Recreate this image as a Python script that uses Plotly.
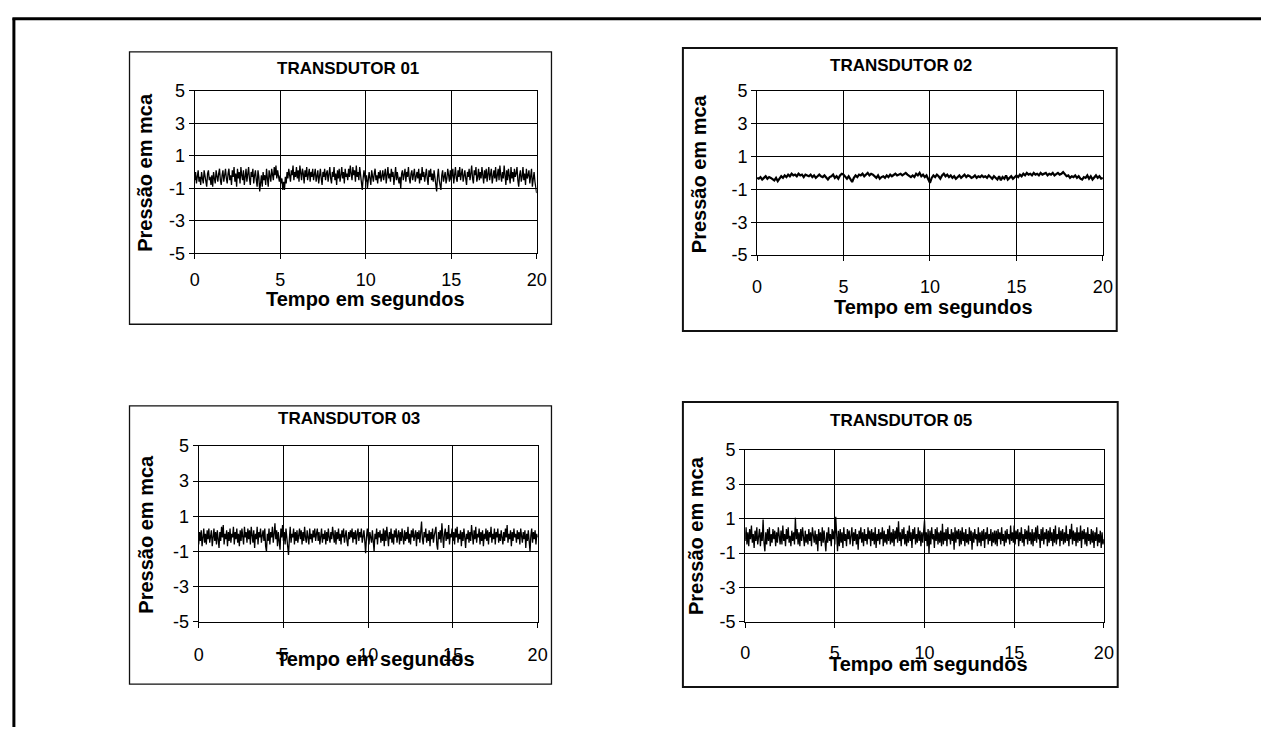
import plotly.graph_objects as go

W, H = 1271, 737

time_fine = [round(i * 0.05, 2) for i in range(401)]
time_coarse = [round(i * 0.1, 1) for i in range(201)]

transdutor_01 = [
    -0.5, 0.0, -0.7, -0.2, 0.1, -0.6, -0.3, -0.8, 0.0, -0.4, -0.7, 0.1, -0.2, -0.6, -0.9, -0.1, 0.1, -0.5, -0.3, -0.8,
    -0.2, -0.9, 0.0, -0.4, -0.7, 0.1, -0.3, -0.6, -0.1, 0.2, -0.5, -0.8, -0.2, 0.1, -0.6, -0.3, 0.2, -0.4, -0.7, -0.1,
    0.2, -0.5, -0.2, -0.8, 0.1, -0.3, 0.3, -0.6, -0.1, -0.9, 0.2, -0.4, 0.0, -0.7, 0.3, -0.2, -0.5, 0.1, -0.8, -0.3,
    0.2, -0.6, -0.1, 0.3, -0.4, -0.8, 0.0, -0.3, 0.2, -0.7, -0.2, 0.1, -0.5, -0.9, 0.1, -0.3, -1.2, -0.6, -0.2, -0.9,
    0.0, -0.5, -0.2, -0.8, 0.2, -0.4, -0.9, 0.1, -0.3, -0.6, 0.2, -0.1, -0.5, 0.3, -0.2, 0.4, -0.4, 0.1, -0.3, -0.6,
    -0.2, -0.7, -0.4, -1.1, -0.6, -1.1, -0.3, -0.7, 0.0, -0.4, 0.2, -0.3, -0.6, 0.1, -0.2, 0.4, -0.5, 0.0, -0.3, 0.3,
    -0.4, 0.1, -0.6, 0.4, -0.2, -0.5, 0.2, -0.1, -0.7, 0.1, -0.3, 0.3, -0.5, -0.1, 0.2, -0.6, 0.0, -0.3, 0.2, -0.5,
    -0.1, 0.2, -0.6, -0.3, 0.1, -0.7, -0.2, 0.2, -0.4, -0.8, 0.0, -0.3, 0.2, -0.5, -0.1, 0.1, -0.6, -0.2, 0.3, -0.4,
    -0.7, 0.0, -0.3, 0.3, -0.5, -0.1, -0.8, 0.1, -0.4, 0.2, -0.6, -0.2, 0.3, -0.4, 0.0, -0.7, 0.2, -0.3, -0.1, -0.5,
    0.2, -0.3, 0.4, -0.1, -0.5, 0.3, -0.2, 0.1, -0.6, 0.4, -0.3, 0.0, -0.5, 0.3, -0.2, -0.7, -1.1, -0.4, 0.1, -0.3,
    -0.6, -0.2, -1.0, -0.5, 0.0, -0.4, -0.8, 0.1, -0.3, -0.6, -0.1, 0.2, -0.5, -0.2, -0.7, 0.0, -0.4, 0.1, -0.6, -0.3,
    0.1, -0.5, -0.2, 0.2, -0.7, -0.3, 0.3, -0.4, -0.1, -0.6, 0.2, -0.3, 0.0, -0.8, -0.2, 0.3, -0.5, 0.0, -0.4, -0.7,
    -0.3, -1.0, -0.1, 0.1, -0.5, -0.2, 0.2, -0.6, 0.0, -0.3, 0.3, -0.4, -0.7, -0.1, 0.1, -0.5, -0.2, 0.2, -0.6, -0.3,
    0.0, -0.4, 0.2, -0.7, -0.1, -0.5, 0.3, -0.3, 0.0, -0.6, -0.2, 0.2, -0.4, -0.8, 0.1, -0.3, 0.2, -0.5, -0.1, -0.6,
    0.1, -0.4, -0.8, -1.2, -0.3, 0.2, -0.5, -0.9, -1.1, -0.2, 0.1, -0.6, -0.3, 0.0, -0.7, -0.4, 0.2, -0.2, -0.6, 0.1,
    -0.5, -0.2, 0.2, -0.7, -0.1, 0.3, -0.4, -0.6, 0.1, -0.3, 0.3, -0.5, -0.1, 0.2, -0.6, -0.2, 0.1, -0.4, -0.8, 0.0,
    -0.3, 0.2, -0.5, -0.1, 0.4, -0.4, -0.7, 0.1, -0.2, 0.3, -0.6, -0.3, 0.2, -0.5, 0.0, -0.4, 0.3, -0.2, -0.7, 0.1,
    -0.4, 0.2, -0.6, -0.1, 0.3, -0.5, -0.2, 0.2, -0.7, -0.3, 0.1, -0.4, 0.3, -0.6, -0.1, 0.2, -0.5, 0.4, -0.2, -0.6,
    0.0, -0.4, 0.4, -0.3, -0.8, 0.1, -0.5, 0.2, -0.2, -0.7, 0.3, -0.4, 0.0, -0.6, 0.2, -0.3, -0.1, 0.3, -0.5, -0.9,
    -0.2, 0.1, -0.6, -0.3, 0.3, -0.5, -0.1, -0.8, 0.2, -0.4, -0.2, 0.1, -0.7, -0.3, 0.2, -0.9, -0.4, 0.0, -0.6, -1.0,
    -1.3,
]

transdutor_02 = [
    -0.3, -0.35, -0.25, -0.4, -0.3, -0.2, -0.35, -0.25, -0.3, -0.4,
    -0.45, -0.3, -0.5, -0.35, -0.2, -0.3, -0.15, -0.25, -0.1, -0.2,
    -0.05, -0.15, -0.1, -0.2, -0.05, -0.15, -0.1, -0.25, -0.1, -0.15,
    -0.2, -0.1, -0.25, -0.15, -0.3, -0.2, -0.1, -0.2, -0.25, -0.15,
    -0.3, -0.4, -0.25, -0.2, -0.1, -0.3, -0.2, -0.35, -0.15, -0.05,
    -0.1, -0.25, -0.35, -0.2, -0.4, -0.55, -0.3, -0.15, -0.25, -0.1,
    -0.15, -0.05, -0.2, -0.1, 0.0, -0.15, -0.05, -0.1, -0.2, -0.3,
    -0.15, -0.35, -0.25, -0.2, -0.3, -0.15, -0.25, -0.1, -0.2, -0.15,
    -0.05, -0.15, -0.1, -0.05, -0.15, -0.1, 0.0, -0.1, -0.2, -0.25,
    -0.15, -0.25, -0.05, -0.15, 0.0, -0.2, -0.1, -0.25, -0.15, -0.4,
    -0.6, -0.3, -0.15, -0.25, -0.1, -0.2, -0.35, -0.15, -0.05, -0.2,
    -0.1, -0.25, -0.15, -0.3, -0.2, -0.35, -0.25, -0.15, -0.3, -0.2,
    -0.1, -0.25, -0.15, -0.2, -0.3, -0.25, -0.15, -0.3, -0.2, -0.25,
    -0.15, -0.25, -0.2, -0.3, -0.15, -0.25, -0.35, -0.2, -0.3, -0.4,
    -0.2, -0.45, -0.25, -0.35, -0.15, -0.4, -0.3, -0.2, -0.35, -0.25,
    -0.15, -0.25, -0.1, -0.2, -0.05, -0.15, 0.0, -0.1, -0.05, -0.15,
    0.0, -0.1, -0.05, -0.15, 0.0, -0.1, -0.05, 0.0, -0.15, -0.05,
    -0.1, 0.0, -0.15, -0.05, 0.0, -0.1, -0.05, 0.05, -0.1, -0.2,
    -0.15, -0.3, -0.2, -0.25, -0.15, -0.3, -0.2, -0.35, -0.4, -0.25,
    -0.3, -0.15, -0.35, -0.2, -0.4, -0.25, -0.15, -0.3, -0.2, -0.35,
    -0.3,
]

transdutor_03 = [
    -0.6, 0.1, -0.4, 0.2, -0.7, -0.1, 0.3, -0.5, 0.0, -0.6, 0.2, -0.3, 0.3, -0.5, -0.1, 0.2, -0.7, -0.2, 0.3, -0.4,
    0.1, -0.6, 0.2, -0.3, -0.8, 0.1, -0.4, 0.4, -0.2, 0.5, -0.6, 0.0, -0.3, 0.2, -0.7, 0.1, -0.4, 0.3, -0.5, 0.0,
    -0.2, 0.4, -0.6, 0.1, -0.3, 0.3, -0.5, 0.0, -0.7, 0.2, -0.4, 0.3, -0.1, -0.6, 0.4, -0.2, 0.1, -0.5, 0.3, -0.3,
    0.2, -0.6, 0.4, -0.1, -0.5, 0.2, -0.8, 0.0, -0.3, 0.4, -0.6, 0.1, -0.2, 0.3, -0.5, -0.1, 0.2, -0.4, 0.3, -0.7,
    -1.0, 0.0, -0.4, 0.3, -0.6, 0.1, -0.2, 0.4, -0.5, 0.0, 0.6, -0.3, 0.2, -0.7, 0.1, -0.4, -0.9, 0.3, -0.2, 0.5,
    -0.4, 0.1, -0.6, 0.3, -0.2, -0.8, -1.2, -0.3, 0.4, -0.5, 0.0, -0.2, 0.3, -0.6, 0.1, -0.4, 0.2, -0.5, -0.1, 0.3,
    -0.3, 0.2, -0.6, 0.1, -0.4, 0.4, -0.2, -0.5, 0.2, -0.1, -0.6, 0.3, -0.3, 0.0, -0.5, 0.2, -0.2, 0.3, -0.4, 0.0,
    0.3, -0.4, 0.1, -0.6, -0.2, 0.3, -0.5, 0.0, -0.3, 0.2, -0.6, 0.1, -0.4, 0.3, -0.2, -0.5, 0.1, -0.3, 0.4, -0.1,
    -0.5, 0.2, -0.6, 0.1, -0.3, 0.3, -0.4, 0.0, -0.6, 0.2, -0.2, 0.3, -0.5, -0.1, 0.2, -0.4, -0.7, 0.1, -0.3, 0.2,
    -0.2, 0.3, -0.5, 0.1, -0.3, 0.2, -0.6, 0.0, 0.3, -0.4, 0.1, -0.2, 0.3, -0.5, -0.1, 0.2, -0.4, -1.1, -0.2, 0.3,
    -0.2, -0.6, 0.1, -0.3, -0.5, 0.2, -0.4, -1.0, 0.0, -0.3, 0.3, -0.6, 0.1, -0.2, 0.2, -0.5, 0.0, -0.4, 0.3, -0.7,
    0.2, -0.4, 0.4, -0.2, -0.7, 0.1, -0.3, 0.3, -0.5, 0.0, -0.6, 0.2, -0.2, 0.3, -0.5, -0.1, 0.2, -0.6, 0.1, -0.4,
    0.3, -0.2, -0.6, 0.2, -0.4, 0.1, -0.3, 0.4, -0.5, 0.0, -0.6, 0.2, -0.2, 0.3, -0.4, -0.1, 0.2, -0.7, 0.1, -0.3,
    0.2, -0.5, 0.0, 0.7, -0.3, -0.6, 0.1, -0.2, 0.3, -0.5, 0.0, -0.4, 0.2, -0.7, 0.1, -0.3, 0.3, -0.5, -0.1, 0.2,
    0.4, -0.6, -0.9, 0.1, -0.3, 0.2, -0.5, 0.6, -0.2, -0.8, 0.0, 0.3, -0.4, 0.1, -0.3, 0.5, -0.6, 0.0, -0.2, 0.3,
    -0.4, 0.1, -0.6, 0.3, -0.2, 0.4, -0.5, 0.0, -0.3, 0.2, -0.7, 0.1, -0.4, 0.3, -0.2, -0.8, 0.0, -0.3, 0.2, -0.5,
    0.1, -0.4, 0.5, -0.2, -0.6, 0.2, -0.3, 0.4, -0.5, 0.0, -0.2, 0.3, -0.6, 0.1, -0.4, 0.2, -0.7, 0.0, -0.3, 0.3,
    -0.4, 0.2, -0.6, 0.1, -0.2, 0.4, -0.5, 0.0, -0.3, 0.3, -0.6, 0.1, -0.2, 0.3, -0.5, 0.0, -0.4, 0.2, -0.1, -0.6,
    0.1, -0.4, 0.3, -0.2, 0.5, -0.5, 0.0, -0.3, 0.2, -0.7, 0.1, -0.4, 0.3, -0.2, 0.0, -0.5, 0.2, -0.3, 0.1, -0.6,
    0.3, -0.2, -0.5, 0.1, -0.3, 0.2, -0.8, 0.0, -0.4, 0.2, -0.3, -1.0, -0.1, 0.3, -0.5, 0.1, -0.3, 0.2, -0.6, 0.0,
    -0.2,
]

transdutor_05 = [
    -0.3, 0.5, -0.5, 0.2, -0.6, 0.4, -0.2, 0.6, -0.4, 0.1, -0.7, 0.3, -0.3, 0.5, -0.5, 0.0, 0.4, -0.6, 0.2, -0.3,
    0.95, -0.4, -0.9, 0.2, -0.5, 0.4, -0.3, 0.5, -0.6, 0.1, -0.4, 0.4, -0.2, 0.3, -0.6, 0.2, -0.4, 0.5, -0.1, -0.5,
    0.3, -0.5, 0.6, -0.3, 0.1, -0.6, 0.4, -0.2, 0.5, -0.4, 0.0, -0.6, 0.3, -0.3, 0.2, -0.5, 1.05, -0.2, 0.4, -0.5,
    0.2, -0.6, 0.4, -0.3, 0.5, -0.2, -0.6, 0.3, -0.4, 0.1, -0.5, 0.4, -0.3, 0.2, -0.6, 0.5, -0.1, -0.4, 0.3, -0.5,
    0.1, -0.9, 0.4, -0.3, 0.2, -0.6, 0.5, -0.4, 0.3, -0.2, -0.9, 0.2, -0.4, 0.5, -0.3, 0.1, -0.6, 0.4, -0.2, 0.3,
    -0.5, 1.1, -0.2, -0.9, 0.3, -0.6, 0.4, -0.4, 0.2, -0.7, 0.5, -0.3, 0.1, -0.6, 0.4, -0.2, 0.3, -0.5, 0.0, 0.5,
    -0.6, 0.2, -0.3, 0.4, -0.5, 0.1, -0.8, 0.3, -0.2, 0.5, -0.4, 0.2, -0.6, 0.4, -0.3, 0.1, -0.5, 0.5, -0.2, 0.3,
    -0.6, 0.4, -0.3, 0.2, -0.5, 0.5, -0.7, 0.1, -0.3, 0.4, -0.5, 0.2, -0.2, 0.5, -0.6, 0.3, -0.4, 0.1, -0.5, 0.4,
    -0.3, 0.6, -0.5, 0.2, -0.4, 0.4, -0.6, 0.3, -0.2, 0.5, -0.4, 0.85, -0.3, 0.2, -0.6, 0.4, -0.2, 0.5, -0.5, 0.1,
    -0.6, 0.3, -0.4, 0.6, -0.3, 0.2, -0.7, 0.4, -0.2, 0.5, -0.5, 0.1, -0.4, 0.5, -0.3, 0.3, -0.6, 0.2, -0.4, 0.5,
    0.9, -0.3, 0.2, -0.6, 0.4, -1.0, 0.3, -0.5, 0.5, -0.2, 0.1, -0.7, 0.4, -0.3, 0.5, -0.5, 0.2, -0.4, 0.3, -0.6,
    0.7, -0.5, 0.2, -0.3, 0.4, -0.6, 0.5, -0.2, 0.1, -0.5, 0.4, -0.3, 0.2, -0.8, 0.5, -0.4, 0.3, -0.2, 0.4, -0.6,
    0.3, -0.5, 0.5, -0.3, 0.2, -0.6, 0.4, -0.4, 0.1, -0.5, 0.5, -0.3, 0.3, -0.8, 0.2, -0.4, 0.4, -0.2, 0.1, -0.6,
    0.5, -0.4, 0.2, -0.6, 0.3, -0.3, 0.4, -0.7, 0.2, -0.2, 0.5, -0.5, 0.1, -0.3, 0.4, -0.6, 0.2, -0.4, 0.3, -0.5,
    0.3, -0.6, 0.4, -0.2, 0.2, -0.5, 0.5, -0.3, 0.1, -0.6, 0.3, -0.4, 0.4, -0.2, 0.1, -0.5, 0.6, -0.3, 0.2, -0.4,
    0.6, -0.5, 0.3, -0.2, 0.4, -0.6, 0.2, -0.3, 0.5, -0.4, 0.1, -0.6, 0.4, -0.2, 0.3, -0.5, 0.6, -0.3, 0.2, -0.5,
    0.4, -0.6, 0.2, -0.3, 0.5, -0.4, 0.6, -0.2, 0.1, -0.7, 0.4, -0.3, 0.5, -0.5, 0.2, -0.2, 0.4, -0.6, 0.3, -0.4,
    0.5, -0.3, 0.2, -0.6, 0.4, -0.4, 0.6, -0.5, 0.1, -0.2, 0.5, -0.6, 0.3, -0.3, 0.4, -0.5, 0.2, -0.4, 0.6, -0.3,
    0.1, -0.6, 0.4, -0.2, 0.7, -0.5, 0.3, -0.3, 0.2, -0.6, 0.5, -0.4, 0.2, -0.3, 0.6, -0.7, 0.3, -0.2, 0.4, -0.5,
    0.2, -0.6, 0.5, -0.3, 0.1, -0.5, 0.4, -0.4, 0.3, -0.7, 0.2, -0.3, 0.5, -0.6, 0.1, -0.4, 0.3, -0.7, 0.2, -0.5,
    -0.2,
]

titles = ["TRANSDUTOR 01", "TRANSDUTOR 02", "TRANSDUTOR 03", "TRANSDUTOR 05"]
series = [transdutor_01, transdutor_02, transdutor_03, transdutor_05]
times = [time_fine, time_coarse, time_fine, time_fine]
x_ticks = [0, 5, 10, 15, 20]
y_ticks = [-5, -3, -1, 1, 3, 5]
y_tick_text = ["-5", "-3", "-1", "1", "3", "5"]
x_title = "Tempo em segundos"
y_title = "Pressão em mca"

FONT = "Liberation Sans, Arial, sans-serif"

# layout geometry (pixels): box, plot area, title pos, axis-title pos, tick standoff, line width
panels = [
    dict(box=(126, 43, 553, 323), plot=(192, 83, 538, 250), title=(347, 60),
         xt=(365, 297), yt=(142, 167), stand=5, lw=1.3, bw=1.3),
    dict(box=(686, 39, 1125, 330), plot=(761, 83, 1111, 252), title=(907, 57),
         xt=(940, 305), yt=(703, 168), stand=10, lw=2.2, bw=2),
    dict(box=(126, 407, 553, 693), plot=(196, 448, 539, 629), title=(348, 420),
         xt=(375, 667), yt=(143, 539), stand=11, lw=1.3, bw=1.3),
    dict(box=(686, 403, 1126, 696), plot=(749, 452, 1112, 629), title=(907, 422),
         xt=(935, 672), yt=(700, 540), stand=9, lw=1.3, bw=2),
]


def px(x):
    return x / W


def py(y):
    return 1 - y / H


fig = go.Figure()
shapes = []
annotations = []

for i, (p, xs, ys, ttl) in enumerate(zip(panels, times, series, titles)):
    n = "" if i == 0 else str(i + 1)
    x0, y0, x1, y1 = p["plot"]
    fig.add_trace(go.Scatter(
        x=xs, y=ys, mode="lines",
        line=dict(color="black", width=p["lw"]),
        xaxis="x" + n, yaxis="y" + n, showlegend=False, hoverinfo="skip",
    ))
    axis_common = dict(
        showline=True, linecolor="black", linewidth=1, mirror=True,
        showgrid=True, gridcolor="black", gridwidth=1,
        ticks="outside", ticklen=5, tickcolor="black", tickwidth=1,
        zeroline=False, fixedrange=True,
        tickfont=dict(family=FONT, size=18, color="black"),
    )
    fig.update_layout(**{
        "xaxis" + n: dict(axis_common, domain=[px(x0), px(x1)], range=[0, 20],
                          tickvals=x_ticks, anchor="y" + n,
                          ticklabelstandoff=p["stand"]),
        "yaxis" + n: dict(axis_common, domain=[py(y1), py(y0)], range=[-5, 5],
                          tickvals=y_ticks, ticktext=y_tick_text,
                          anchor="x" + n, ticklabelstandoff=0),
    })
    bx0, by0, bx1, by1 = p["box"]
    shapes.append(dict(type="rect", xref="paper", yref="paper",
                       x0=px(bx0), x1=px(bx1), y0=py(by1), y1=py(by0),
                       line=dict(color="#111", width=p["bw"]), layer="below"))
    annotations.append(dict(text="<b>%s</b>" % ttl, xref="paper", yref="paper",
                            x=px(p["title"][0]), y=py(p["title"][1]),
                            xanchor="center", yanchor="middle", showarrow=False,
                            font=dict(family=FONT, size=17, color="black")))
    annotations.append(dict(text="<b>%s</b>" % x_title, xref="paper", yref="paper",
                            x=px(p["xt"][0]), y=py(p["xt"][1]),
                            xanchor="center", yanchor="middle", showarrow=False,
                            font=dict(family=FONT, size=20, color="black")))
    annotations.append(dict(text="<b>%s</b>" % y_title, xref="paper", yref="paper",
                            x=px(p["yt"][0]), y=py(p["yt"][1]), textangle=-90,
                            xanchor="center", yanchor="middle", showarrow=False,
                            font=dict(family=FONT, size=20, color="black")))

# outer frame (left and top edges)
shapes.append(dict(type="line", xref="paper", yref="paper",
                   x0=px(9), x1=px(9), y0=0, y1=py(8.5),
                   line=dict(color="black", width=3)))
shapes.append(dict(type="line", xref="paper", yref="paper",
                   x0=px(7.5), x1=1, y0=py(9), y1=py(9),
                   line=dict(color="black", width=3)))

fig.update_layout(
    width=W, height=H, autosize=False,
    margin=dict(l=0, r=0, t=0, b=0),
    paper_bgcolor="white", plot_bgcolor="white",
    shapes=shapes, annotations=annotations,
    font=dict(family=FONT, color="black"),
)

fig.write_html("out.html", include_plotlyjs=True)
